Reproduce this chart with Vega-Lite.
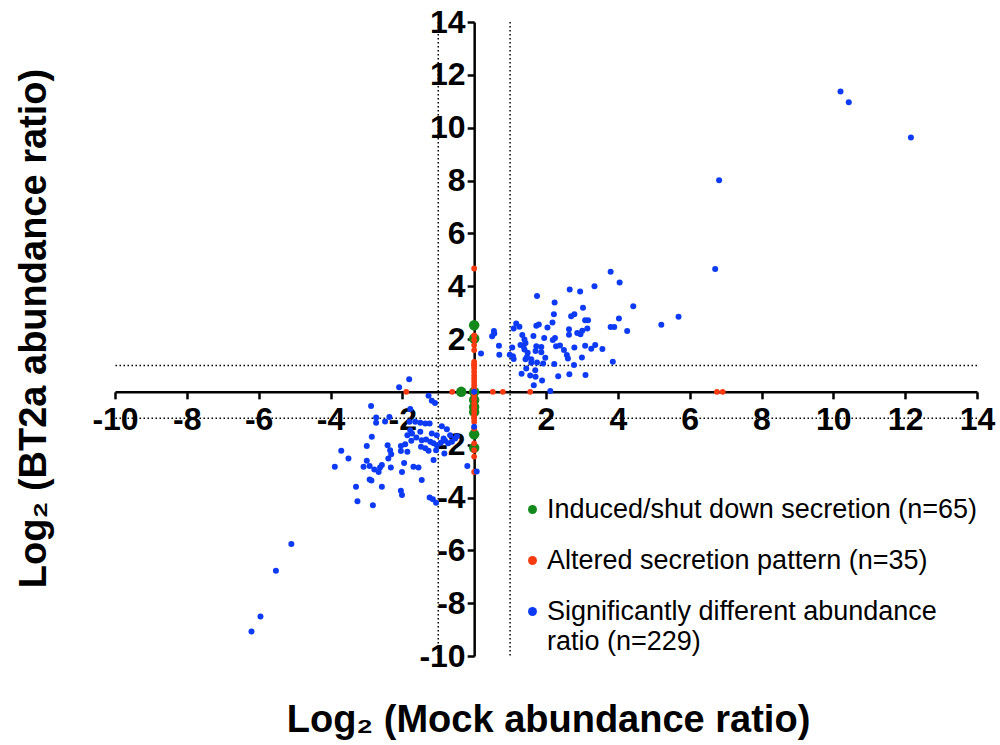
{
  "$schema": "https://vega.github.io/schema/vega-lite/v6.json",
  "width": 862,
  "height": 634,
  "autosize": {"type": "none"},
  "padding": {"left": 115, "top": 22, "right": 23, "bottom": 89},
  "background": "white",
  "config": {
    "view": {"stroke": null},
    "font": "Liberation Sans",
    "style": {"guide-label": {"lineHeight": 30}}
  },
  "datasets": {
    "vlines": [{"mock": -1}, {"mock": 1}],
    "hlines": [{"bt2a": -1}, {"bt2a": 1}],
    "green": [
      {"mock": 0, "bt2a": 2.52}, {"mock": 0, "bt2a": 2.02}, {"mock": 0, "bt2a": 0}, {"mock": 0, "bt2a": -0.31},
      {"mock": 0, "bt2a": -0.57}, {"mock": 0, "bt2a": -0.76}, {"mock": 0, "bt2a": -1.61}, {"mock": 0, "bt2a": -2.12},
      {"mock": -0.36, "bt2a": 0}
    ],
    "red": [
      {"mock": 0, "bt2a": 4.67}, {"mock": 0, "bt2a": 2.14}, {"mock": 0, "bt2a": 1.96}, {"mock": 0, "bt2a": 1.77},
      {"mock": 0, "bt2a": 1.58}, {"mock": 0, "bt2a": 1.13}, {"mock": 0, "bt2a": 1.05}, {"mock": 0, "bt2a": 1.0},
      {"mock": 0, "bt2a": 0.9}, {"mock": 0, "bt2a": 0.76}, {"mock": 0, "bt2a": 0.62}, {"mock": 0, "bt2a": 0.5},
      {"mock": 0, "bt2a": 0.38}, {"mock": 0, "bt2a": 0.25}, {"mock": 0, "bt2a": 0.12}, {"mock": 0, "bt2a": -0.12},
      {"mock": 0, "bt2a": -0.28}, {"mock": 0, "bt2a": -0.45}, {"mock": 0, "bt2a": -0.6}, {"mock": 0, "bt2a": -0.75},
      {"mock": 0, "bt2a": -0.9}, {"mock": 0, "bt2a": -1.0}, {"mock": 0, "bt2a": -1.13}, {"mock": 0, "bt2a": -1.39},
      {"mock": 0, "bt2a": -1.95}, {"mock": 0, "bt2a": -2.21}, {"mock": 0, "bt2a": -2.45}, {"mock": 0, "bt2a": -3.03},
      {"mock": -1.89, "bt2a": 0}, {"mock": -0.61, "bt2a": 0}, {"mock": 0.52, "bt2a": 0}, {"mock": 0.8, "bt2a": 0},
      {"mock": 1.56, "bt2a": 0}, {"mock": 6.76, "bt2a": 0}, {"mock": 6.92, "bt2a": 0}
    ],
    "blue": [
      {"mock": 3.35, "bt2a": 4.0}, {"mock": 2.66, "bt2a": 3.87}, {"mock": 2.95, "bt2a": 3.8}, {"mock": 1.75, "bt2a": 3.63},
      {"mock": 2.24, "bt2a": 3.38}, {"mock": 3.03, "bt2a": 3.18}, {"mock": 2.22, "bt2a": 2.94}, {"mock": 2.79, "bt2a": 2.94},
      {"mock": 2.7, "bt2a": 2.86}, {"mock": 3.09, "bt2a": 2.71}, {"mock": 3.17, "bt2a": 2.71}, {"mock": 2.18, "bt2a": 2.62},
      {"mock": 1.17, "bt2a": 2.59}, {"mock": 1.8, "bt2a": 2.55}, {"mock": 1.73, "bt2a": 2.5}, {"mock": 1.26, "bt2a": 2.46},
      {"mock": 1.1, "bt2a": 2.4}, {"mock": 2.04, "bt2a": 2.44}, {"mock": 3.15, "bt2a": 2.4}, {"mock": 2.64, "bt2a": 2.37},
      {"mock": 0.55, "bt2a": 2.3}, {"mock": 3.01, "bt2a": 2.31}, {"mock": 2.87, "bt2a": 2.23}, {"mock": 2.96, "bt2a": 2.18},
      {"mock": 1.65, "bt2a": 2.11}, {"mock": 0.5, "bt2a": 2.1}, {"mock": 1.34, "bt2a": 2.15}, {"mock": 2.64, "bt2a": 2.16},
      {"mock": 1.95, "bt2a": 2.04}, {"mock": 2.25, "bt2a": 2.04}, {"mock": 2.19, "bt2a": 1.96}, {"mock": 1.4, "bt2a": 1.98},
      {"mock": 1.43, "bt2a": 1.85}, {"mock": 0.69, "bt2a": 1.74}, {"mock": 1.29, "bt2a": 1.77}, {"mock": 2.28, "bt2a": 1.73},
      {"mock": 2.39, "bt2a": 1.75}, {"mock": 2.79, "bt2a": 1.68}, {"mock": 3.09, "bt2a": 1.74}, {"mock": 3.37, "bt2a": 1.77},
      {"mock": 3.26, "bt2a": 1.63}, {"mock": 3.57, "bt2a": 1.62}, {"mock": 1.06, "bt2a": 1.68}, {"mock": 1.4, "bt2a": 1.6},
      {"mock": 1.71, "bt2a": 1.55}, {"mock": 1.87, "bt2a": 1.7}, {"mock": 2.5, "bt2a": 1.58}, {"mock": 0.19, "bt2a": 1.45},
      {"mock": 0.7, "bt2a": 1.4}, {"mock": 0.99, "bt2a": 1.4}, {"mock": 1.49, "bt2a": 1.48}, {"mock": 1.87, "bt2a": 1.5},
      {"mock": 2.58, "bt2a": 1.39}, {"mock": 2.61, "bt2a": 1.26}, {"mock": 3.0, "bt2a": 1.3}, {"mock": 1.1, "bt2a": 1.24},
      {"mock": 1.43, "bt2a": 1.23}, {"mock": 1.98, "bt2a": 1.29}, {"mock": 1.59, "bt2a": 1.1}, {"mock": 1.75, "bt2a": 1.11},
      {"mock": 1.92, "bt2a": 1.07}, {"mock": 2.23, "bt2a": 1.05}, {"mock": 2.78, "bt2a": 1.02}, {"mock": 1.45, "bt2a": 0.88},
      {"mock": 1.7, "bt2a": 0.82}, {"mock": 1.32, "bt2a": 0.68}, {"mock": 1.56, "bt2a": 0.62}, {"mock": 2.34, "bt2a": 0.59},
      {"mock": 2.65, "bt2a": 0.67}, {"mock": 3.1, "bt2a": 0.64}, {"mock": 1.71, "bt2a": 0.57}, {"mock": 1.89, "bt2a": 0.43},
      {"mock": 1.66, "bt2a": 0.25}, {"mock": 2.12, "bt2a": 0.03}, {"mock": 1.37, "bt2a": 1.73}, {"mock": 1.47, "bt2a": 1.32},
      {"mock": 1.59, "bt2a": 1.23}, {"mock": 1.73, "bt2a": 1.73}, {"mock": 0.56, "bt2a": 2.21}, {"mock": 1.08, "bt2a": 1.35},
      {"mock": 3.8, "bt2a": 4.55}, {"mock": 4.05, "bt2a": 4.14}, {"mock": 4.43, "bt2a": 3.24}, {"mock": 4.03, "bt2a": 2.78},
      {"mock": 3.8, "bt2a": 2.45}, {"mock": 3.9, "bt2a": 2.45}, {"mock": 4.26, "bt2a": 2.3}, {"mock": 5.21, "bt2a": 2.54},
      {"mock": 5.69, "bt2a": 2.84}, {"mock": 3.86, "bt2a": 1.14},
      {"mock": 10.2, "bt2a": 11.37}, {"mock": 10.43, "bt2a": 10.96}, {"mock": 12.16, "bt2a": 9.63}, {"mock": 6.82, "bt2a": 8.01},
      {"mock": 6.71, "bt2a": 4.65},
      {"mock": -1.81, "bt2a": 0.48}, {"mock": -2.09, "bt2a": 0.17}, {"mock": -1.27, "bt2a": -0.15}, {"mock": -1.18, "bt2a": -0.34},
      {"mock": -1.09, "bt2a": -0.42}, {"mock": -2.87, "bt2a": -0.54}, {"mock": -1.78, "bt2a": -0.65}, {"mock": -2.73, "bt2a": -0.97},
      {"mock": -2.73, "bt2a": -1.17}, {"mock": -2.48, "bt2a": -1.12}, {"mock": -2.36, "bt2a": -0.95}, {"mock": -1.8, "bt2a": -1.13},
      {"mock": -1.64, "bt2a": -1.13}, {"mock": -1.5, "bt2a": -1.17}, {"mock": -1.36, "bt2a": -1.2}, {"mock": -1.24, "bt2a": -1.2},
      {"mock": -0.9, "bt2a": -1.3}, {"mock": -0.76, "bt2a": -1.42}, {"mock": -1.78, "bt2a": -1.45}, {"mock": -1.86, "bt2a": -1.64},
      {"mock": -1.73, "bt2a": -1.58}, {"mock": -1.5, "bt2a": -1.51}, {"mock": -1.18, "bt2a": -1.58}, {"mock": -1.04, "bt2a": -1.64},
      {"mock": -2.85, "bt2a": -1.7}, {"mock": -0.67, "bt2a": -1.64}, {"mock": -0.53, "bt2a": -1.77}, {"mock": -0.85, "bt2a": -1.77},
      {"mock": -1.61, "bt2a": -1.73}, {"mock": -1.46, "bt2a": -1.83}, {"mock": -1.34, "bt2a": -1.8}, {"mock": -1.22, "bt2a": -1.89},
      {"mock": -1.13, "bt2a": -1.95}, {"mock": -1.04, "bt2a": -2.02}, {"mock": -0.93, "bt2a": -1.93}, {"mock": -0.81, "bt2a": -1.85},
      {"mock": -0.72, "bt2a": -1.95}, {"mock": -0.62, "bt2a": -1.89}, {"mock": -1.75, "bt2a": -1.85}, {"mock": -1.92, "bt2a": -1.98},
      {"mock": -2.41, "bt2a": -2.02}, {"mock": -2.34, "bt2a": -2.21}, {"mock": -2.31, "bt2a": -2.36}, {"mock": -2.99, "bt2a": -2.05},
      {"mock": -3.7, "bt2a": -2.23}, {"mock": -3.5, "bt2a": -2.52}, {"mock": -2.04, "bt2a": -2.05}, {"mock": -2.04, "bt2a": -2.24},
      {"mock": -1.86, "bt2a": -2.27}, {"mock": -1.48, "bt2a": -2.08}, {"mock": -1.36, "bt2a": -2.14}, {"mock": -1.27, "bt2a": -2.23},
      {"mock": -1.06, "bt2a": -2.21}, {"mock": -0.83, "bt2a": -2.33}, {"mock": -1.13, "bt2a": -2.58}, {"mock": -2.39, "bt2a": -2.52},
      {"mock": -2.99, "bt2a": -2.61}, {"mock": -3.08, "bt2a": -2.84}, {"mock": -2.91, "bt2a": -2.81}, {"mock": -2.78, "bt2a": -2.94},
      {"mock": -2.66, "bt2a": -3.03}, {"mock": -2.62, "bt2a": -2.86}, {"mock": -2.57, "bt2a": -2.77}, {"mock": -3.88, "bt2a": -2.84},
      {"mock": -2.32, "bt2a": -2.86}, {"mock": -1.95, "bt2a": -2.69}, {"mock": -2.01, "bt2a": -3.03}, {"mock": -1.69, "bt2a": -2.84},
      {"mock": -1.55, "bt2a": -2.86}, {"mock": -2.91, "bt2a": -3.32}, {"mock": -2.86, "bt2a": -3.36}, {"mock": -1.46, "bt2a": -3.34},
      {"mock": -3.29, "bt2a": -3.59}, {"mock": -2.57, "bt2a": -3.59}, {"mock": -2.04, "bt2a": -3.74}, {"mock": -2.01, "bt2a": -3.91},
      {"mock": -3.25, "bt2a": -4.14}, {"mock": -2.82, "bt2a": -4.29}, {"mock": -1.24, "bt2a": -4.0}, {"mock": -1.15, "bt2a": -4.07},
      {"mock": -1.06, "bt2a": -4.2}, {"mock": -0.19, "bt2a": -2.81}, {"mock": -0.48, "bt2a": -1.68},
      {"mock": -5.09, "bt2a": -5.76}, {"mock": -5.52, "bt2a": -6.77}, {"mock": -5.95, "bt2a": -8.5}, {"mock": -6.2, "bt2a": -9.07},
      {"mock": 0, "bt2a": 0}, {"mock": 0, "bt2a": -1.32}, {"mock": 0.07, "bt2a": -3.02}
    ]
  },
  "layer": [
    {
      "data": {"name": "vlines"},
      "mark": {"type": "rule", "color": "black", "strokeWidth": 1.5, "strokeDash": [1.5, 2.5]},
      "encoding": {
        "x": {"field": "mock", "type": "quantitative", "scale": {"domain": [-10, 14], "nice": false, "zero": false},
          "axis": {"orient": "bottom", "offset": -264.17, "values": [-10, -8, -6, -4, -2, 0, 2, 4, 6, 8, 10, 12, 14],
            "labelExpr": "datum.value == 0 ? '' : toString(datum.value)", "title": "Log₂ (Mock abundance ratio)",
            "titleX": 433, "titleY": 340, "titleBaseline": "alphabetic", "titleAlign": "center",
            "titleFontSize": 38, "titleFontWeight": "bold", "titleColor": "black", "titleFont": "Liberation Sans",
            "labelFontSize": 32, "labelFontWeight": "bold", "labelColor": "black", "labelFont": "Liberation Sans",
            "labelPadding": 6, "labelFlush": false, "labelOverlap": false, "labelBound": false,
            "tickSize": 7, "tickWidth": 2.5, "tickColor": "black", "domainWidth": 2.5, "domainColor": "black", "grid": false}}
      }
    },
    {
      "data": {"name": "hlines"},
      "mark": {"type": "rule", "color": "black", "strokeWidth": 1.5, "strokeDash": [1.5, 2.5]},
      "encoding": {
        "y": {"field": "bt2a", "type": "quantitative", "scale": {"domain": [-10, 14], "nice": false, "zero": false},
          "axis": {"orient": "left", "offset": -359.17, "values": [-10, -8, -6, -4, -2, 0, 2, 4, 6, 8, 10, 12, 14],
            "labelExpr": "datum.value == 0 ? '' : toString(datum.value)", "title": "Log₂ (BT2a abundance ratio)",
            "titleX": -429, "titleY": 306, "titleAngle": -90, "titleBaseline": "alphabetic", "titleAlign": "center",
            "titleFontSize": 38, "titleFontWeight": "bold", "titleColor": "black", "titleFont": "Liberation Sans",
            "labelFontSize": 32, "labelFontWeight": "bold", "labelColor": "black", "labelFont": "Liberation Sans",
            "labelPadding": 2, "labelFlush": false, "labelOverlap": false, "labelBound": false,
            "tickSize": 7, "tickWidth": 2.5, "tickColor": "black", "domainWidth": 2.5, "domainColor": "black", "grid": false}}
      }
    },
    {
      "data": {"name": "green"},
      "transform": [{"calculate": "'Induced/shut down secretion (n=65)'", "as": "group"}],
      "mark": {"type": "circle", "opacity": 1, "size": 110},
      "encoding": {
        "x": {"field": "mock", "type": "quantitative"},
        "y": {"field": "bt2a", "type": "quantitative"},
        "color": {"field": "group", "type": "nominal",
          "scale": {"domain": ["Induced/shut down secretion (n=65)", "Altered secretion pattern (n=35)", "Significantly different abundance ratio (n=229)"],
            "range": ["#12891a", "#f73a10", "#0d3bf5"]},
          "legend": {"orient": "none", "legendX": 404, "legendY": 474, "title": null, "padding": 0,
            "labelFontSize": 27, "labelFont": "Liberation Sans", "labelColor": "black", "labelLimit": 600,
            "symbolType": "circle", "symbolSize": 80, "symbolStrokeWidth": 0, "labelOffset": 1, "rowPadding": 23,
            "labelExpr": "datum.label == 'Significantly different abundance ratio (n=229)' ? ['Significantly different abundance', 'ratio (n=229)'] : datum.label"}}
      }
    },
    {
      "data": {"name": "red"},
      "transform": [{"calculate": "'Altered secretion pattern (n=35)'", "as": "group"}],
      "mark": {"type": "circle", "opacity": 1, "size": 34},
      "encoding": {
        "x": {"field": "mock", "type": "quantitative"},
        "y": {"field": "bt2a", "type": "quantitative"},
        "color": {"field": "group", "type": "nominal"}
      }
    },
    {
      "data": {"name": "blue"},
      "transform": [{"calculate": "'Significantly different abundance ratio (n=229)'", "as": "group"}],
      "mark": {"type": "circle", "opacity": 1, "size": 36},
      "encoding": {
        "x": {"field": "mock", "type": "quantitative"},
        "y": {"field": "bt2a", "type": "quantitative"},
        "color": {"field": "group", "type": "nominal"}
      }
    }
  ]
}
